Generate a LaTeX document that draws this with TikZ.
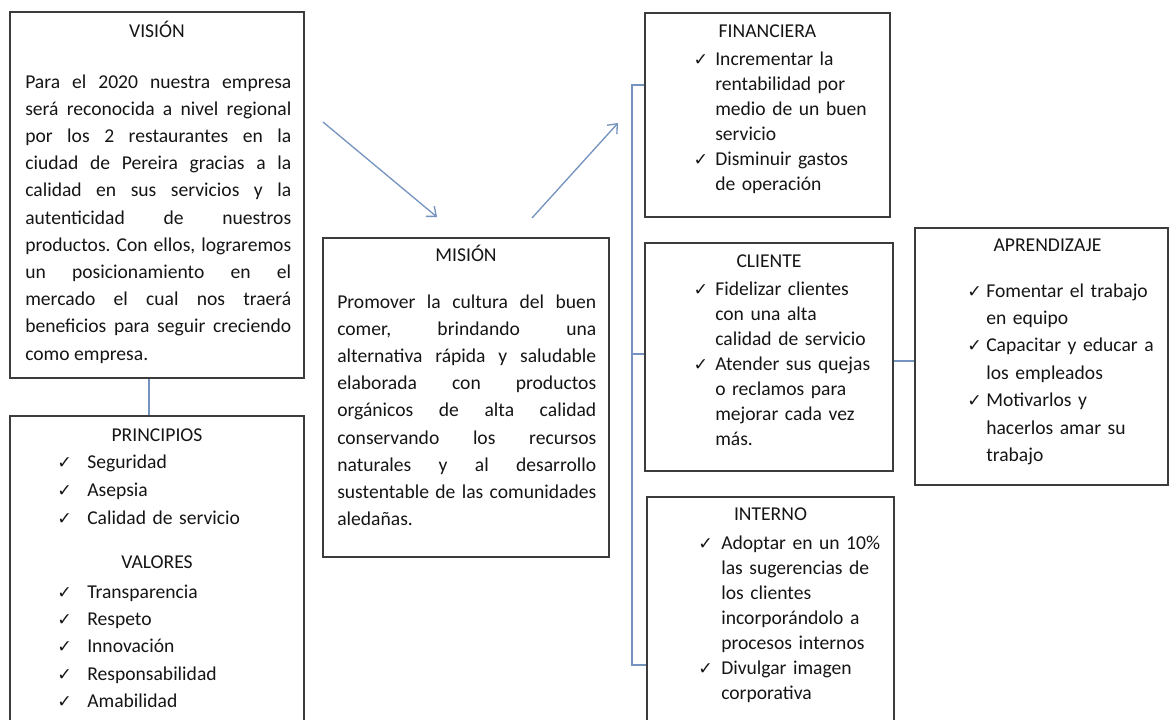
\documentclass[tikz,border=0pt]{standalone}
\usepackage{fontspec}
\setmainfont{Carlito}
\newfontfamily\chkfont{DejaVu Sans}
\usetikzlibrary{positioning,arrows.meta,fit,calc}
\definecolor{ink}{HTML}{151515}
\definecolor{boxline}{HTML}{3C3C3C}
\definecolor{conline}{HTML}{7593BF}
\newcommand{\chk}{\leavevmode\llap{\makebox[\chkw][l]{\chkfont\fontsize{13}{13}\selectfont ✓}}}
\tikzset{
  caja/.style={rectangle,draw=boxline,line width=0.9pt,inner sep=0pt},
  titulo/.style={anchor=base,inner sep=0pt,text=ink,font=\fontsize{14.7}{18}\selectfont},
  parrafo/.style={anchor=base west,inner sep=0pt,align=justify,text=ink,text width=#1,
    font=\fontsize{14.7}{20.4}\selectfont},
  lista/.style 2 args={anchor=base west,inner sep=0pt,align=left,text=ink,text width=150pt,
    font=\fontsize{14.7}{#1}\selectfont,execute at begin node={\def\chkw{#2}}},
  con/.style={draw=conline,line width=1pt},
  flecha/.style={con,-{Straight Barb[length=6pt,width=10pt]}},
}
\begin{document}
\frenchspacing\tolerance=10000\hyphenpenalty=10000\exhyphenpenalty=10000
\begin{tikzpicture}[x=0.75pt,y=-0.75pt]
  \clip (0,0) rectangle (1170,719);
  % cajas
  \node[caja,fit={(10,12)(304,378)}] (vis) {};
  \node[caja,fit={(10,416)(304,740)}] (pri) {};
  \node[caja,fit={(323,238)(609,557)}] (mis) {};
  \node[caja,fit={(645,13)(890,217)}] (fin) {};
  \node[caja,fit={(645,243)(893,471)}] (cli) {};
  \node[caja,fit={(647,497)(894,740)}] (int) {};
  \node[caja,fit={(915,228)(1168,485)}] (apr) {};
  % titulos
  \node[titulo] (vist) at ($(vis.north)+(0,26)$) {VISIÓN};
  \node[titulo] (mist) at ($(mis.north)+(0,24)$) {MISIÓN};
  \node[titulo] (prit) at ($(pri.north)+(0,26)$) {PRINCIPIOS};
  \node[titulo] (valt) at ($(pri.north)+(0,153)$) {VALORES};
  \node[titulo] (fint) at ($(fin.north)+(0,25)$) {FINANCIERA};
  \node[titulo] (clit) at ($(cli.north)+(0,25)$) {CLIENTE};
  \node[titulo] (intt) at ($(int.north)+(0,24)$) {INTERNO};
  \node[titulo] (aprt) at ($(apr.north)+(6,24)$) {APRENDIZAJE};
  % textos
  \node[parrafo=199.5pt] (visb) at (25,88) {Para el 2020 nuestra empresa\linebreak
    será reconocida a nivel regional\linebreak
    por los 2 restaurantes en la\linebreak
    ciudad de Pereira gracias a la\linebreak
    calidad en sus servicios y la\linebreak
    autenticidad de nuestros\linebreak
    productos. Con ellos, lograremos\linebreak
    un posicionamiento en el\linebreak
    mercado el cual nos traerá\linebreak
    beneficios para seguir creciendo\linebreak
    como empresa.};
  \node[parrafo=194.25pt] (misb) at (337,308) {Promover la cultura del buen\linebreak
    comer, brindando una\linebreak
    alternativa rápida y saludable\linebreak
    elaborada con productos\linebreak
    orgánicos de alta calidad\linebreak
    conservando los recursos\linebreak
    naturales y al desarrollo\linebreak
    sustentable de las comunidades\linebreak
    aledañas.};
  \node[lista={21pt}{22.5pt}] (prib) at (87,468) {\chk Seguridad\\\chk Asepsia\\\chk Calidad de servicio};
  \node[lista={20.6pt}{22.5pt}] (valb) at (87,598) {\chk Transparencia\\\chk Respeto\\\chk Innovación\\\chk Responsabilidad\\\chk Amabilidad};
  \node[lista={18.75pt}{16.3pt}] (finb) at (715,65) {\chk Incrementar la\\rentabilidad por\\medio de un buen\\servicio\\\chk Disminuir gastos\\de operación};
  \node[lista={18.75pt}{16.3pt}] (clib) at (715,295) {\chk Fidelizar clientes\\con una alta\\calidad de servicio\\\chk Atender sus quejas\\o reclamos para\\mejorar cada vez\\más.};
  \node[lista={18.75pt}{17.25pt}] (intb) at (721,549) {\chk Adoptar en un 10\%\\las sugerencias de\\los clientes\\incorporándolo a\\procesos internos\\\chk Divulgar imagen\\corporativa};
  \node[lista={20.6pt}{14.25pt}] (aprb) at (986,297) {\chk Fomentar el trabajo\\en equipo\\\chk Capacitar y educar a\\los empleados\\\chk Motivarlos y\\hacerlos amar su\\trabajo};
  % conectores
  \coordinate (vp) at (149,0);
  \draw[con] (vis.south -| vp) -- (pri.north -| vp);
  \coordinate (a1) at (323,122);
  \coordinate (a2) at (437,217);
  \coordinate (a3) at (532,218);
  \coordinate (a4) at (618,123);
  \draw[flecha] (a1) -- (a2);
  \draw[flecha] (a3) -- (a4);
  \coordinate (bt) at (632,85);
  \coordinate (bm) at (632,354);
  \coordinate (bb) at (632,665);
  \draw[con] (fin.west |- bt) -- (bt) -- (bb) -- (int.west |- bb);
  \draw[con] (bm) -- (cli.west |- bm);
  \coordinate (ca) at (904,361);
  \draw[con] (cli.east |- ca) -- (apr.west |- ca);
\end{tikzpicture}
\end{document}
